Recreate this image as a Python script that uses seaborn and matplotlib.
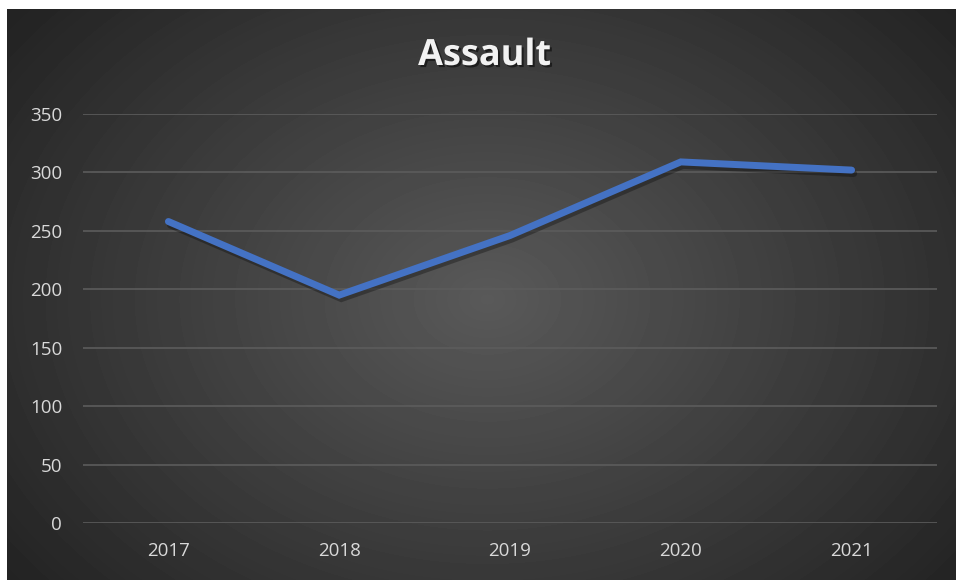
import numpy as np
import pandas as pd
import matplotlib
matplotlib.use('Agg')
import matplotlib.pyplot as plt
import matplotlib.patheffects as pe
import seaborn as sns

years = ['2017', '2018', '2019', '2020', '2021']
assaults = [258, 195, 246, 309, 302]
y_ticks = [0, 50, 100, 150, 200, 250, 300, 350]

df = pd.DataFrame({'year': years, 'count': assaults})

sns.set_theme(style='dark')
plt.rcParams['font.family'] = ['Open Sans', 'DejaVu Sans']

fig = plt.figure(figsize=(9.56, 5.8), dpi=100, facecolor='white')

# dark radial background like the Excel chart style
bg = fig.add_axes([7 / 956, 0, 1 - 7 / 956, 1 - 9 / 580])
h, w = 571, 949
yy, xx = np.mgrid[0:h, 0:w]
d = np.sqrt(((xx - 480) / 600.0) ** 2 + ((yy - 290) / 450.0) ** 2)
shade = np.clip(0.35 - 0.21 * d, 0.14, 0.36)
bg.imshow(shade, cmap='gray', vmin=0, vmax=1, aspect='auto', interpolation='bilinear')
bg.set_axis_off()

ax = fig.add_axes([83 / 956, 1 - 523 / 580, (937 - 83) / 956, (523 - 114) / 580])
ax.patch.set_alpha(0)

sns.lineplot(data=df, x='year', y='count', ax=ax, color='#4472C4', linewidth=5,
             solid_capstyle='round', solid_joinstyle='miter', sort=False)
ax.lines[0].set_path_effects([pe.SimpleLineShadow(offset=(1.5, -2.5), shadow_color='black', alpha=0.3),
                              pe.Normal()])

ax.set_xlim(-0.5, 4.5)
ax.set_ylim(0, 350)
ax.set_yticks(y_ticks)
ax.set_yticklabels([str(t) for t in y_ticks])
ax.grid(axis='y', color='#5c5c5c', linewidth=1.2)
ax.grid(axis='x', visible=False)
ax.set_axisbelow(True)
for s in ax.spines.values():
    s.set_visible(False)
ax.tick_params(axis='both', length=0, colors='#d9d9d9', labelsize=13.5)
ax.tick_params(axis='y', pad=15)
ax.tick_params(axis='x', pad=14)
ax.set_xlabel('')
ax.set_ylabel('')

fig.text(0.507, 1 - 56 / 580, 'Assault', ha='center', va='center', color='#f2f2f2',
         fontsize=26, fontweight='bold',
         path_effects=[pe.withSimplePatchShadow(offset=(1.5, -1.5), shadow_rgbFace='black', alpha=0.5)])

fig.savefig('out.png', dpi=100, facecolor='white')
